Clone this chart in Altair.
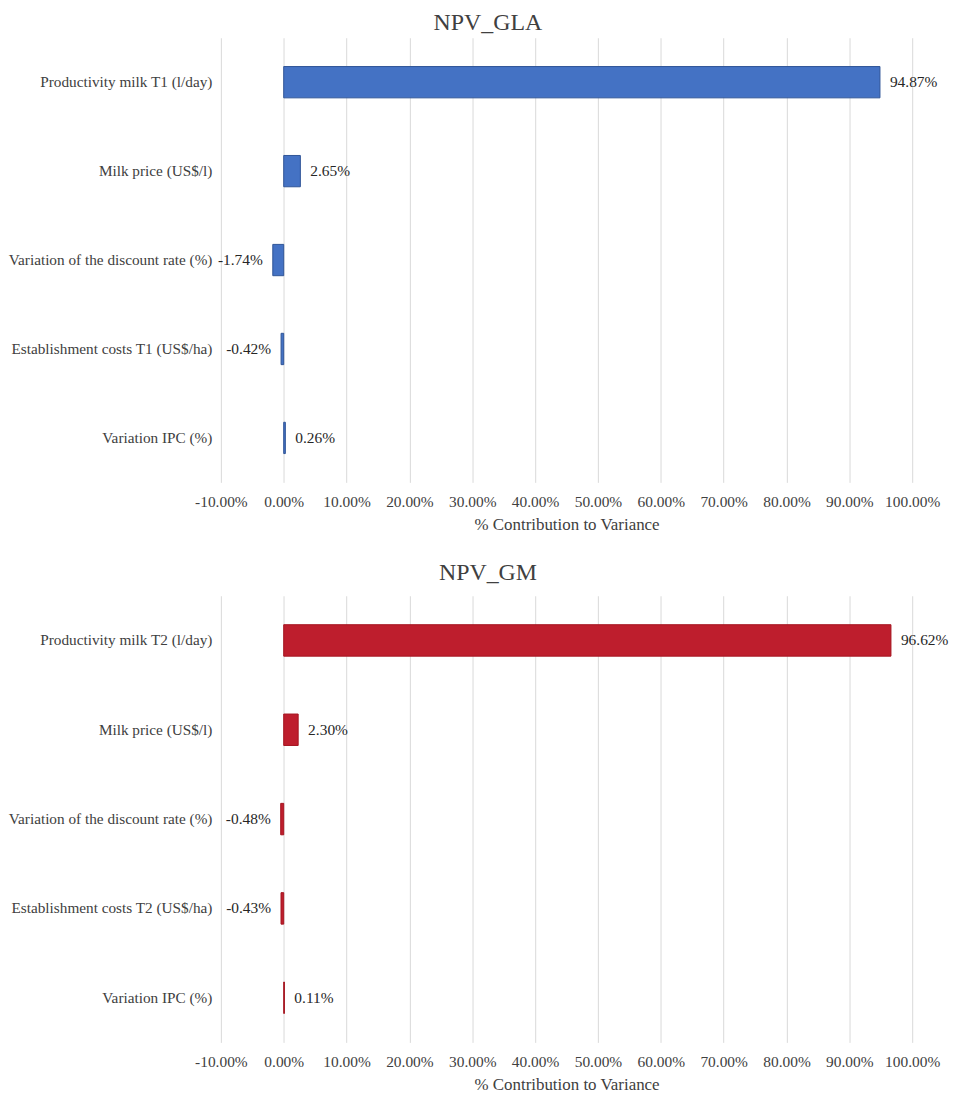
import altair as alt
import pandas as pd

cats_gla = ["Productivity milk T1 (l/day)", "Milk price (US$/l)",
            "Variation of the discount rate (%)", "Establishment costs T1 (US$/ha)",
            "Variation IPC (%)"]
vals_gla = [94.87, 2.65, -1.74, -0.42, 0.26]

cats_gm = ["Productivity milk T2 (l/day)", "Milk price (US$/l)",
           "Variation of the discount rate (%)", "Establishment costs T2 (US$/ha)",
           "Variation IPC (%)"]
vals_gm = [96.62, 2.30, -0.48, -0.43, 0.11]

tick_values = [-10, 0, 10, 20, 30, 40, 50, 60, 70, 80, 90, 100]

FONT = "Liberation Serif, Times New Roman, serif"
TXT = "#404040"
LBL = "replace(format(datum.v, '.2f'), '\u2212', '-') + '%'"


def panel(cats, vals, title, fill, stroke, toff, h):
    df = pd.DataFrame({"cat": cats, "v": vals})
    base = alt.Chart(df).transform_calculate(lbl=LBL)
    x = alt.X("v:Q",
              scale=alt.Scale(domain=[-10, 100], nice=False, zero=True),
              axis=alt.Axis(values=tick_values,
                            labelExpr="replace(format(datum.value, '.2f'), '\u2212', '-') + '%'",
                            grid=True, gridColor="#d9d9d9", gridWidth=1,
                            domain=False, ticks=False,
                            labelFont=FONT, labelFontSize=15.5, labelColor=TXT,
                            labelPadding=12, labelFlush=False,
                            title="% Contribution to Variance",
                            titleFont=FONT, titleFontSize=17, titleFontWeight="normal",
                            titleColor=TXT, titlePadding=7))
    y = alt.Y("cat:N", sort=cats,
              scale=alt.Scale(paddingInner=0.648, paddingOuter=0.324),
              axis=alt.Axis(title=None, domain=False, ticks=False, grid=False,
                            labelFont=FONT, labelFontSize=15.35, labelColor=TXT,
                            labelPadding=9, labelLimit=400))
    bars = base.mark_bar(fill=fill, stroke=stroke, strokeWidth=1).encode(x=x, y=y)
    pos = base.transform_filter("datum.v >= 0").mark_text(
        align="left", baseline="middle", dx=10, font=FONT, fontSize=15.5, color="#262626"
    ).encode(x="v:Q", y=alt.Y("cat:N", sort=cats), text="lbl:N")
    neg = base.transform_filter("datum.v < 0").mark_text(
        align="right", baseline="middle", dx=-10, font=FONT, fontSize=15.5, color="#262626"
    ).encode(x="v:Q", y=alt.Y("cat:N", sort=cats), text="lbl:N")
    return alt.layer(bars, pos, neg).properties(
        width=695, height=h,
        title=alt.TitleParams(title, font=FONT, fontSize=24, fontWeight="normal",
                              color=TXT, anchor="middle", dx=-79, offset=toff))


p1 = panel(cats_gla, vals_gla, "NPV_GLA", "#4472C4", "#2F5597", 3, 447)
p2 = panel(cats_gm, vals_gm, "NPV_GM", "#BE1E2D", "#A5141F", 11, 449)

chart = alt.vconcat(p1, p2, spacing=28).properties(padding=0).configure_view(stroke=None)

chart.save("out.html", embed_options={"renderer": "svg", "actions": False})
